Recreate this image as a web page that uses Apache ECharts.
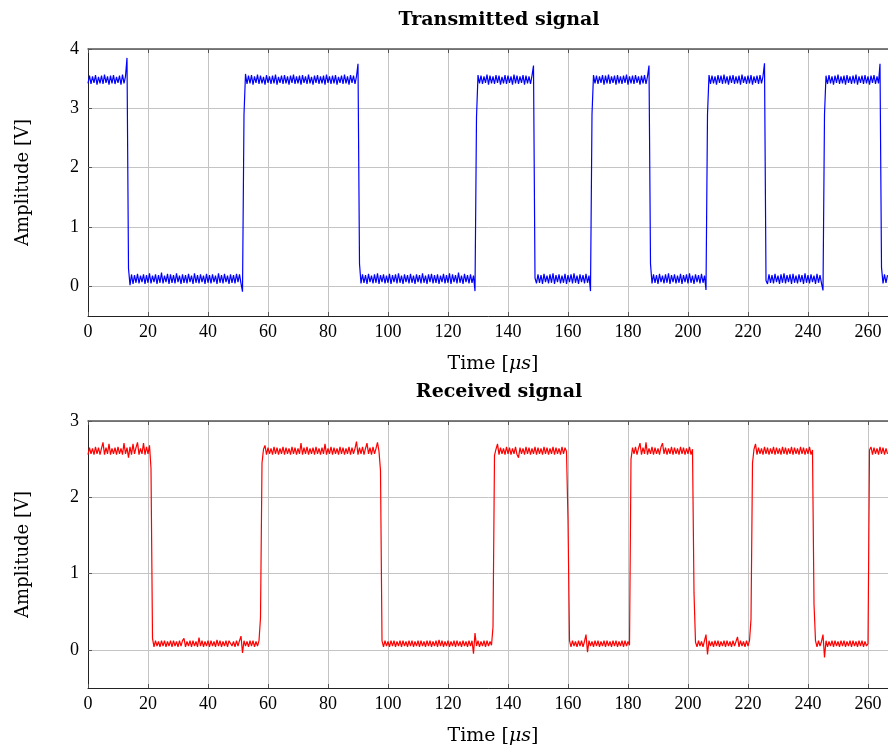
<!DOCTYPE html>
<html><head><meta charset="utf-8">
<script src="https://cdn.jsdelivr.net/npm/echarts@6/dist/echarts.min.js"></script>
<style>html,body{margin:0;padding:0;background:#fff}#c{width:888px;height:749px}</style>
</head><body><div id="c"></div>
<script>
// sampling period of the recorded traces, in microseconds
const sampleStep = 0.5;

// Transmitted signal samples [V], one every 0.5 µs starting at t = 0 (10 samples per line = 5 µs)
const transmitted = [
3.42,3.55,3.41,3.54,3.43,3.56,3.40,3.53,3.42,3.55,
3.41,3.57,3.43,3.54,3.40,3.55,3.42,3.56,3.41,3.53,
3.43,3.55,3.40,3.57,3.42,3.54,3.85,0.30,0.02,0.20,
0.04,0.19,0.06,0.21,0.05,0.18,0.07,0.20,0.04,0.19,
0.06,0.22,0.05,0.18,0.07,0.20,0.04,0.19,0.06,0.23,
0.05,0.18,0.07,0.21,0.04,0.20,0.06,0.19,0.05,0.22,
0.07,0.18,0.04,0.20,0.06,0.19,0.05,0.21,0.07,0.18,
0.04,0.22,0.06,0.19,0.05,0.20,0.07,0.18,0.04,0.21,
0.06,0.19,0.05,0.20,0.07,0.18,0.04,0.22,0.06,0.19,
0.05,0.21,0.07,0.18,0.04,0.20,0.06,0.19,0.05,0.21,
0.07,0.20,0.05,-0.09,2.90,3.58,3.41,3.55,3.42,3.56,
3.40,3.54,3.43,3.57,3.41,3.55,3.42,3.53,3.40,3.56,
3.43,3.54,3.41,3.55,3.42,3.57,3.40,3.53,3.43,3.55,
3.41,3.56,3.42,3.54,3.40,3.55,3.43,3.57,3.41,3.54,
3.42,3.55,3.40,3.56,3.43,3.54,3.41,3.57,3.42,3.53,
3.40,3.55,3.43,3.56,3.41,3.54,3.42,3.55,3.40,3.57,
3.43,3.54,3.41,3.55,3.42,3.56,3.40,3.53,3.43,3.55,
3.41,3.57,3.42,3.54,3.40,3.56,3.43,3.55,3.41,3.54,
3.75,0.38,0.05,0.20,0.06,0.19,0.04,0.21,0.07,0.18,
0.05,0.20,0.06,0.22,0.04,0.19,0.07,0.20,0.05,0.18,
0.06,0.21,0.04,0.19,0.07,0.20,0.05,0.22,0.06,0.18,
0.04,0.20,0.07,0.19,0.05,0.21,0.06,0.18,0.04,0.20,
0.07,0.19,0.05,0.22,0.06,0.18,0.04,0.20,0.07,0.21,
0.05,0.19,0.06,0.20,0.04,0.18,0.07,0.21,0.05,0.19,
0.06,0.22,0.04,0.20,0.07,0.19,0.05,0.23,0.06,0.18,
0.04,0.21,0.07,0.19,0.05,0.20,0.06,0.18,-0.08,2.85,
3.56,3.42,3.55,3.41,3.54,3.43,3.57,3.40,3.55,3.42,
3.54,3.41,3.56,3.43,3.55,3.40,3.53,3.42,3.56,3.41,
3.55,3.43,3.54,3.40,3.57,3.42,3.55,3.41,3.54,3.43,
3.56,3.40,3.55,3.42,3.54,3.41,3.55,3.72,0.14,0.05,
0.20,0.06,0.19,0.04,0.21,0.07,0.18,0.05,0.20,0.06,
0.22,0.04,0.19,0.07,0.20,0.05,0.18,0.06,0.21,0.04,
0.19,0.07,0.20,0.05,0.22,0.06,0.18,0.04,0.20,0.07,
0.19,0.05,0.21,0.06,0.18,-0.08,2.90,3.56,3.42,3.55,
3.41,3.54,3.43,3.56,3.40,3.55,3.42,3.57,3.41,3.54,
3.43,3.55,3.40,3.56,3.42,3.54,3.41,3.55,3.43,3.57,
3.40,3.54,3.42,3.55,3.41,3.56,3.43,3.54,3.40,3.55,
3.42,3.56,3.41,3.54,3.72,0.38,0.05,0.20,0.06,0.19,
0.04,0.21,0.07,0.18,0.05,0.20,0.06,0.22,0.04,0.19,
0.07,0.20,0.05,0.18,0.06,0.21,0.04,0.19,0.07,0.20,
0.05,0.22,0.06,0.18,0.04,0.20,0.07,0.19,0.05,0.21,
0.06,0.18,-0.06,2.90,3.56,3.41,3.55,3.42,3.54,3.40,
3.56,3.43,3.55,3.41,3.57,3.42,3.54,3.40,3.55,3.43,
3.56,3.41,3.54,3.42,3.55,3.40,3.57,3.43,3.54,3.41,
3.55,3.42,3.56,3.40,3.54,3.43,3.55,3.41,3.56,3.42,
3.54,3.76,0.10,0.04,0.20,0.06,0.19,0.05,0.21,0.07,
0.18,0.04,0.20,0.06,0.22,0.05,0.19,0.07,0.20,0.04,
0.21,0.06,0.18,0.05,0.20,0.07,0.19,0.04,0.22,0.06,
0.19,0.05,0.20,0.07,0.18,0.04,0.21,0.06,0.19,0.05,
-0.07,2.90,3.55,3.41,3.56,3.42,3.54,3.40,3.55,3.43,
3.57,3.41,3.54,3.42,3.55,3.40,3.56,3.43,3.54,3.41,
3.55,3.42,3.57,3.40,3.54,3.43,3.55,3.41,3.56,3.42,
3.54,3.40,3.55,3.43,3.56,3.41,3.54,3.42,3.75,0.32,
0.05,0.20,0.06,0.19
];

// Received signal samples [V], same sampling grid
const received = [
2.56,2.65,2.57,2.64,2.56,2.66,2.57,2.65,2.56,2.64,
2.72,2.56,2.65,2.57,2.70,2.56,2.64,2.57,2.65,2.56,
2.66,2.57,2.64,2.56,2.71,2.57,2.65,2.52,2.66,2.56,
2.70,2.57,2.65,2.72,2.56,2.64,2.57,2.71,2.56,2.66,
2.57,2.68,2.38,0.15,0.04,0.12,0.05,0.11,0.04,0.12,
0.05,0.12,0.04,0.11,0.05,0.12,0.04,0.12,0.05,0.11,
0.04,0.12,0.05,0.12,0.15,0.04,0.11,0.05,0.12,0.04,
0.12,0.05,0.11,0.04,0.16,0.05,0.12,0.04,0.11,0.05,
0.12,0.04,0.12,0.05,0.11,0.04,0.13,0.05,0.12,0.04,
0.11,0.05,0.12,0.04,0.12,0.14,0.05,0.11,0.04,0.12,
0.05,0.12,0.18,-0.04,0.12,0.05,0.11,0.04,0.12,0.05,
0.12,0.04,0.11,0.05,0.12,0.42,2.45,2.63,2.68,2.56,
2.65,2.57,2.64,2.56,2.66,2.57,2.65,2.56,2.64,2.57,
2.66,2.56,2.65,2.57,2.64,2.56,2.66,2.57,2.65,2.56,
2.64,2.57,2.71,2.56,2.65,2.57,2.66,2.56,2.64,2.57,
2.65,2.56,2.66,2.57,2.64,2.56,2.65,2.57,2.70,2.56,
2.64,2.57,2.66,2.56,2.65,2.57,2.64,2.56,2.66,2.57,
2.65,2.56,2.64,2.57,2.66,2.56,2.65,2.57,2.64,2.73,
2.56,2.65,2.57,2.66,2.56,2.64,2.71,2.57,2.65,2.56,
2.66,2.57,2.64,2.72,2.60,2.35,0.12,0.04,0.12,0.05,
0.11,0.04,0.12,0.05,0.12,0.04,0.11,0.05,0.12,0.04,
0.12,0.05,0.11,0.04,0.12,0.05,0.12,0.04,0.11,0.05,
0.12,0.04,0.12,0.05,0.11,0.04,0.12,0.05,0.12,0.04,
0.11,0.05,0.12,0.04,0.13,0.05,0.12,0.04,0.11,0.05,
0.12,0.04,0.11,0.05,0.12,0.04,0.12,0.05,0.11,0.04,
0.12,0.05,0.11,0.04,0.12,0.05,0.12,-0.05,0.22,0.05,
0.12,0.04,0.11,0.05,0.12,0.04,0.12,0.05,0.11,0.06,
0.30,2.55,2.63,2.70,2.56,2.65,2.57,2.64,2.56,2.66,
2.57,2.65,2.56,2.64,2.57,2.66,2.56,2.52,2.65,2.57,
2.64,2.56,2.66,2.57,2.65,2.56,2.64,2.57,2.66,2.56,
2.65,2.57,2.64,2.56,2.66,2.57,2.65,2.56,2.64,2.57,
2.66,2.56,2.65,2.57,2.64,2.56,2.66,2.57,2.65,2.60,
1.70,0.12,0.04,0.12,0.05,0.11,0.04,0.12,0.05,0.12,
0.04,0.11,0.20,-0.03,0.12,0.05,0.11,0.04,0.12,0.05,
0.12,0.04,0.11,0.05,0.12,0.04,0.12,0.05,0.11,0.04,
0.12,0.05,0.12,0.04,0.11,0.05,0.12,0.04,0.12,0.05,
0.11,0.06,2.50,2.65,2.57,2.66,2.56,2.64,2.71,2.56,
2.65,2.57,2.72,2.56,2.64,2.57,2.66,2.56,2.65,2.57,
2.64,2.56,2.66,2.71,2.57,2.65,2.56,2.64,2.57,2.66,
2.56,2.65,2.57,2.64,2.56,2.66,2.57,2.65,2.56,2.64,
2.57,2.66,2.56,2.63,0.75,0.10,0.04,0.12,0.05,0.11,
0.04,0.12,0.20,-0.06,0.12,0.05,0.11,0.04,0.12,0.05,
0.12,0.04,0.11,0.05,0.12,0.04,0.12,0.05,0.11,0.04,
0.12,0.05,0.11,0.17,0.04,0.12,0.05,0.11,0.04,0.12,
0.05,0.12,0.40,2.45,2.63,2.70,2.56,2.65,2.57,2.64,
2.56,2.66,2.57,2.65,2.56,2.64,2.57,2.66,2.56,2.65,
2.57,2.64,2.56,2.66,2.57,2.65,2.56,2.64,2.57,2.66,
2.56,2.65,2.57,2.64,2.56,2.66,2.57,2.65,2.56,2.64,
2.57,2.66,2.56,2.62,0.60,0.12,0.04,0.12,0.05,0.11,
0.20,-0.10,0.12,0.04,0.11,0.05,0.12,0.04,0.12,0.05,
0.11,0.04,0.12,0.05,0.12,0.04,0.11,0.05,0.12,0.04,
0.12,0.05,0.11,0.04,0.12,0.05,0.12,0.04,0.11,0.05,
0.08,2.62,2.66,2.56,2.65,2.57,2.64,2.56,2.66,2.57,
2.65,2.56,2.64,2.57
];

const titles = ['Transmitted signal', 'Received signal'];
const xAxisName = 'Time [{it|μs}]';
const yAxisName = 'Amplitude [V]';
const xRange = [0, 270];
const xStep = 20;
const yRanges = [[-0.5, 4], [-0.5, 3]];
const yStep = 1;
const seriesColors = ['#0000ff', '#ff0000'];

const toPairs = arr => arr.map((v, i) => [i * sampleStep, v]);
const serif = '"Liberation Serif", "DejaVu Serif", serif';
const wideSerif = '"DejaVu Serif", "Liberation Serif", serif';
const gridTops = [49, 421];
const gridH = 267;

const chart = echarts.init(document.getElementById('c'), null, {renderer: 'canvas'});

const grids = [], xAxes = [], yAxes = [], series = [], titleOpts = [];
[transmitted, received].forEach((data, k) => {
  grids.push({left: 88, top: gridTops[k], width: 810, height: gridH, containLabel: false, outerBoundsMode: 'none'});
  titleOpts.push({
    text: titles[k], left: 494, top: k === 0 ? 6 : 378, textAlign: 'center',
    textStyle: {fontFamily: wideSerif, fontWeight: 'bold', fontSize: 19, color: '#000'}
  });
  xAxes.push({
    type: 'value', gridIndex: k, min: xRange[0], max: xRange[1], interval: xStep,
    name: xAxisName, nameLocation: 'middle', nameGap: 39,
    nameTextStyle: {fontFamily: wideSerif, fontSize: 19, color: '#000',
      rich: {it: {fontFamily: wideSerif, fontStyle: 'italic', fontSize: 19, color: '#000'}}},
    axisLine: {show: true, onZero: false, lineStyle: {color: '#222', width: 1}},
    axisTick: {show: true, inside: true, length: 4, lineStyle: {color: '#555'}},
    axisLabel: {show: true, showMaxLabel: false, margin: 7, fontFamily: serif, fontSize: 18, color: '#000',
      formatter: v => (v % xStep === 0 ? String(v) : '')},
    splitLine: {show: true, lineStyle: {color: '#c4c4c4', width: 1}}
  });
  xAxes.push({
    type: 'value', gridIndex: k, position: 'top', min: xRange[0], max: xRange[1], interval: xStep,
    axisLine: {show: true, onZero: false, lineStyle: {color: '#555', width: 1.5}},
    axisTick: {show: true, inside: true, length: 4, lineStyle: {color: '#555'}},
    axisLabel: {show: false}, splitLine: {show: false}
  });
  yAxes.push({
    type: 'value', gridIndex: k, min: yRanges[k][0], max: yRanges[k][1],
    minInterval: yStep, maxInterval: yStep,
    name: yAxisName, nameLocation: 'middle', nameGap: 56, nameRotate: 90,
    nameTextStyle: {fontFamily: wideSerif, fontSize: 18, color: '#000'},
    axisLine: {show: true, onZero: false, lineStyle: {color: '#222', width: 1}},
    axisTick: {show: true, inside: true, length: 4, lineStyle: {color: '#555'}},
    axisLabel: {show: true, showMinLabel: false, margin: 9, fontFamily: serif, fontSize: 18, color: '#000',
      formatter: v => (Math.abs(v - Math.round(v)) < 1e-9 ? String(Math.round(v)) : '')},
    splitLine: {show: true, lineStyle: {color: '#c4c4c4', width: 1}}
  });
  series.push({
    type: 'line', xAxisIndex: k * 2, yAxisIndex: k, data: toPairs(data),
    showSymbol: false, symbol: 'none', sampling: null, clip: true,
    lineStyle: {color: seriesColors[k], width: 1.2}, itemStyle: {color: seriesColors[k]},
    animation: false
  });
});

chart.setOption({
  backgroundColor: '#fff',
  animation: false,
  title: titleOpts,
  grid: grids,
  xAxis: xAxes,
  yAxis: yAxes,
  series: series
});
</script>
</body></html>
